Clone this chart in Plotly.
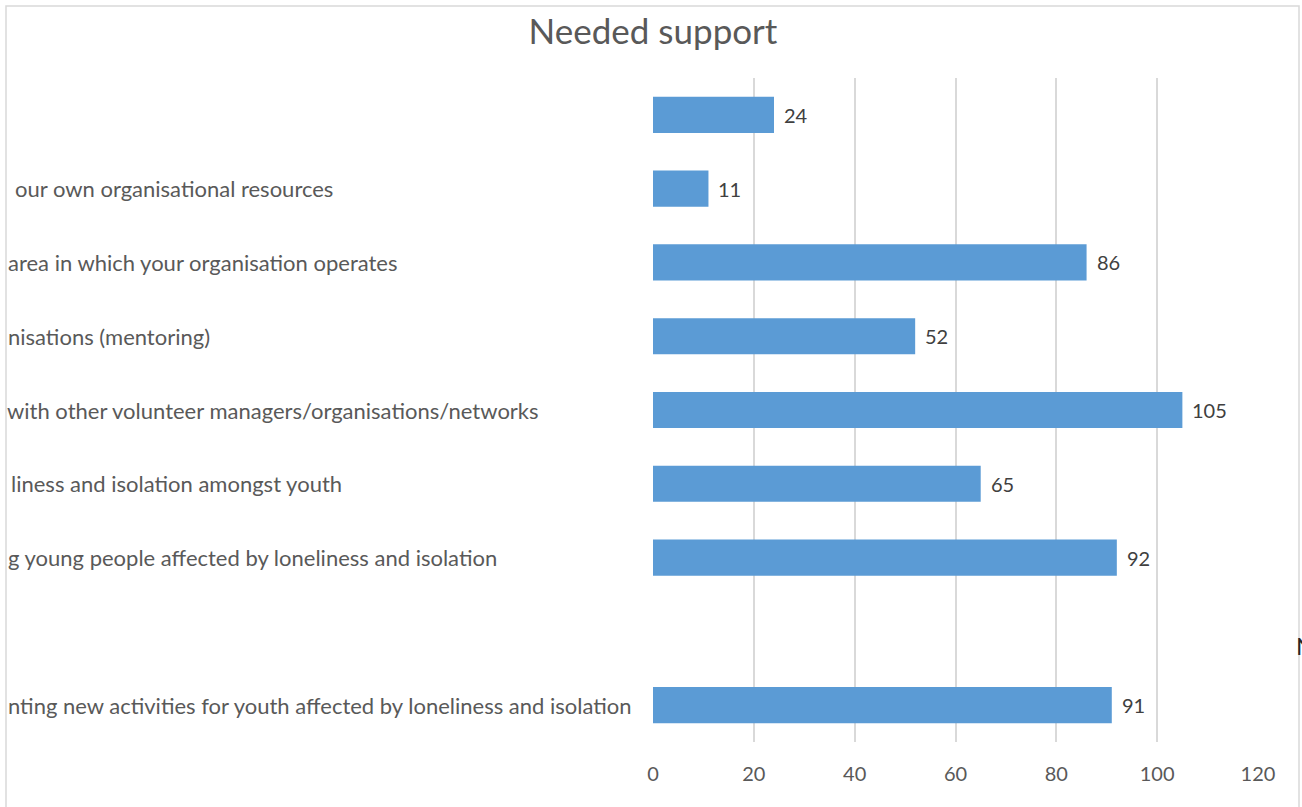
import plotly.graph_objects as go

# ---- data ----
label_text = [
    "",
    "our own organisational resources",
    "area in which your organisation operates",
    "nisations (mentoring)",
    "with other volunteer managers/organisations/networks",
    "liness and isolation amongst youth",
    "g young people affected by loneliness and isolation",
    "",
    "nting new activities for youth affected by loneliness and isolation",
]
values = [24, 11, 86, 52, 105, 65, 92, None, 91]
x_ticks = [0, 20, 40, 60, 80, 100, 120]
title_text = "Needed support"

# unique category keys (blank labels get unique whitespace keys)
categories = [t if t else " " * (i + 1) for i, t in enumerate(label_text)]

W, H = 1302, 807
L, R, T, B = 653, 44, 78, 65
plot_w = W - L - R

FONT = "Lato, 'Open Sans', sans-serif"
TXT = "#595959"

fig = go.Figure()
fig.add_trace(go.Bar(
    x=values,
    y=categories,
    orientation="h",
    marker=dict(color="#5B9BD5", line=dict(width=0)),
    cliponaxis=False,
    hoverinfo="x+y",
))

# data labels, placed by the axes at each bar end
for cat, v in zip(categories, values):
    if v is None:
        continue
    fig.add_annotation(
        x=v, xref="x", y=cat, yref="y", text=str(v), showarrow=False,
        xanchor="left", yanchor="middle", xshift=8,
        font=dict(family=FONT, size=20, color="#404040"),
    )

# left-aligned (cut-off) category labels
label_x_px = [8, 13, 6, 6, 5, 9, 6, 8, 6]
for cat, txt, px in zip(categories, label_text, label_x_px):
    if not txt:
        continue
    fig.add_annotation(
        x=(px - L) / plot_w, xref="paper", y=cat, yref="y",
        text=txt, showarrow=False, xanchor="left", yanchor="middle",
        font=dict(family=FONT, size=22, color=TXT),
    )

# cut-off glyph at the right edge
fig.add_annotation(
    x=(1294 - L) / plot_w, xref="paper", y=(H - B - 645) / (H - T - B), yref="paper",
    text="N", showarrow=False, xanchor="left", yanchor="middle",
    font=dict(family=FONT, size=24, color="#262626"),
)

# chart frame (partially visible)
fig.add_shape(
    type="rect", xref="paper", yref="paper",
    x0=(6 - L) / plot_w, x1=(1299 - L) / plot_w,
    y0=-0.2, y1=1 + (T - 6) / (H - T - B),
    line=dict(color="#D9D9D9", width=1.5), fillcolor="rgba(0,0,0,0)", layer="below",
)

fig.update_layout(
    width=W, height=H,
    margin=dict(l=L, r=R, t=T, b=B, pad=0),
    paper_bgcolor="white", plot_bgcolor="white",
    showlegend=False,
    bargap=0.51,
    title=dict(
        text=title_text, x=653 / W, xanchor="center", xref="container",
        y=1 - 32 / H, yanchor="middle", yref="container",
        font=dict(family=FONT, size=35, color=TXT),
    ),
    xaxis=dict(
        range=[0, 120], tickvals=x_ticks, ticktext=[str(t) for t in x_ticks],
        showgrid=True, gridcolor="#D9D9D9", gridwidth=1.5,
        zeroline=False, showline=False, ticks="", ticklen=0,
        tickfont=dict(family=FONT, size=20, color=TXT),
        ticklabelstandoff=18,
    ),
    yaxis=dict(
        categoryorder="array", categoryarray=categories,
        autorange="reversed", showticklabels=False, showgrid=False,
        zeroline=False, showline=False, ticks="",
    ),
)

fig.write_html(
    "out.html",
    config={"displayModeBar": False},
    post_script="document.body.style.margin='0px';document.body.style.overflow='hidden';",
)
